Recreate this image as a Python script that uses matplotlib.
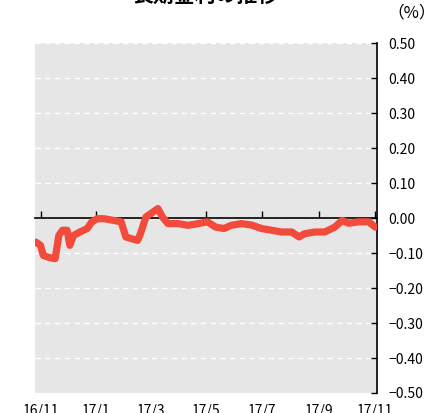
import matplotlib
matplotlib.use("Agg")
import matplotlib.pyplot as plt
import pandas as pd

plt.rcParams['font.family'] = ['Noto Sans CJK JP', 'DejaVu Sans']

title = "長期金利の推移"
unit_label = "（%）"

dates = ["2016-10-27", "2016-11-01", "2016-11-04", "2016-11-12", "2016-11-17", "2016-11-21",
         "2016-11-25", "2016-11-30", "2016-12-03", "2016-12-07", "2016-12-14", "2016-12-22",
         "2016-12-27", "2017-01-02", "2017-01-09", "2017-01-20", "2017-01-28", "2017-02-02",
         "2017-02-08", "2017-02-15", "2017-02-18", "2017-02-24", "2017-03-01", "2017-03-09",
         "2017-03-14", "2017-03-20", "2017-03-31", "2017-04-11", "2017-04-22", "2017-05-02",
         "2017-05-11", "2017-05-20", "2017-05-28", "2017-06-08", "2017-06-19", "2017-06-30",
         "2017-07-11", "2017-07-22", "2017-08-02", "2017-08-10", "2017-08-16", "2017-08-27",
         "2017-09-07", "2017-09-18", "2017-09-26", "2017-10-03", "2017-10-14", "2017-10-25",
         "2017-11-01"]
values = [-0.069, -0.078, -0.107, -0.114, -0.116, -0.050,
          -0.035, -0.035, -0.078, -0.050, -0.040, -0.030,
          -0.011, -0.002, -0.002, -0.007, -0.011, -0.054,
          -0.059, -0.064, -0.045, 0.003, 0.012, 0.027,
          0.003, -0.016, -0.016, -0.021, -0.016, -0.011,
          -0.026, -0.030, -0.021, -0.016, -0.020, -0.030,
          -0.035, -0.040, -0.040, -0.054, -0.045, -0.040,
          -0.040, -0.026, -0.007, -0.015, -0.011, -0.011,
          -0.026]

xtick_dates = ["2016-11-01", "2017-01-01", "2017-03-01", "2017-05-01",
               "2017-07-01", "2017-09-01", "2017-11-01"]
xtick_labels = ["16/11", "17/1", "17/3", "17/5", "17/7", "17/9", "17/11"]
ytick_values = [-0.5, -0.4, -0.3, -0.2, -0.1, 0.0, 0.1, 0.2, 0.3, 0.4, 0.5]

x = pd.to_datetime(dates)
xt = pd.to_datetime(xtick_dates)

fig = plt.figure(figsize=(4.31, 4.13), dpi=100)
ax = fig.add_axes([35/431, 1-393/413, (377-35)/431, (393-43)/413])
ax.set_facecolor('#e6e6e6')

ax.plot(x, values, color='#f24b3b', linewidth=5.2, solid_capstyle='round',
        solid_joinstyle='round', zorder=3)

ax.set_xlim(pd.Timestamp("2016-10-26"), pd.Timestamp("2017-11-03"))
ax.set_ylim(-0.5, 0.5)

# y axis on the right
ax.yaxis.tick_right()
ax.set_yticks(ytick_values)
ax.set_yticklabels([f"{v:.2f}".replace('-', '\u2212') for v in ytick_values])
ax.tick_params(axis='y', direction='in', length=4, width=1, color='black',
               labelsize=10, pad=8, right=True, left=False)
ax.yaxis.grid(True, color='white', linestyle=(0, (4, 3)), linewidth=1)
ax.set_axisbelow(True)

for s in ['left', 'top']:
    ax.spines[s].set_visible(False)
ax.spines['right'].set_color('black')
ax.spines['right'].set_linewidth(1.2)
ax.spines['bottom'].set_position(('data', 0))
ax.spines['bottom'].set_color('black')
ax.spines['bottom'].set_linewidth(1.2)
ax.spines['bottom'].set_zorder(2)

ax.set_xticks(xt)
ax.tick_params(axis='x', direction='in', length=5, width=1, labelbottom=False)

sec = ax.secondary_xaxis(0)
sec.set_xticks(xt)
sec.set_xticklabels(xtick_labels)
sec.tick_params(axis='x', length=0, labelsize=10, pad=8)
sec.spines['bottom'].set_visible(False)

fig.text(0.476, 1 - 1.5/413, title, ha='center', va='baseline', fontsize=15,
         fontweight='bold')
fig.text(412/431, 1 - 13/413, unit_label, ha='center', va='center', fontsize=12)

fig.savefig("out.png", dpi=100)
